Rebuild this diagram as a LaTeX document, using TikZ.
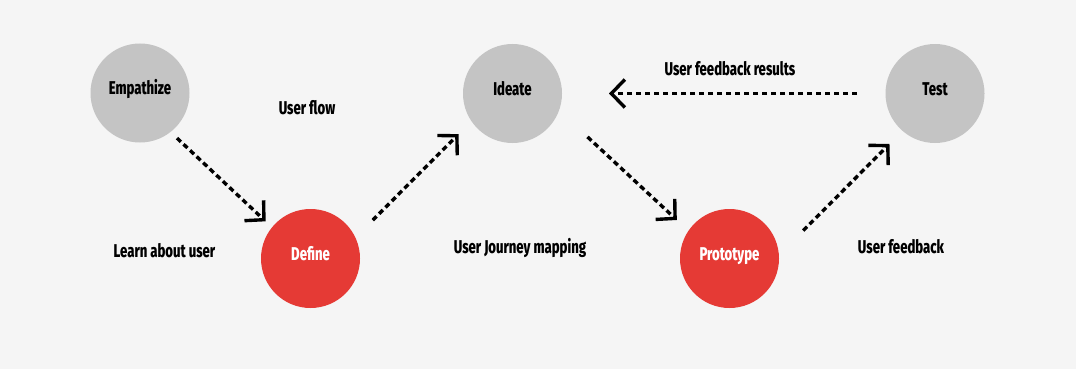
\documentclass[tikz,border=0pt]{standalone}
\usepackage{fontspec}
\setmainfont{Fira Sans}[FakeStretch=0.71, BoldFont={* ExtraBold}]
\usetikzlibrary{arrows.meta}
\definecolor{paper}{HTML}{F5F5F5}
\definecolor{stage}{HTML}{C4C4C4}
\definecolor{focus}{HTML}{E53A35}
\begin{document}
\begin{tikzpicture}[x=1pt, y=-1pt,
  txt/.style={font=\fontsize{18.5}{22}\selectfont\bfseries},
  phase/.style={txt, circle, minimum size=99pt, inner sep=0pt, outer sep=0pt,
    text height=8pt, text depth=4pt},
  neutral/.style={phase, fill=stage, text=black},
  key/.style={phase, fill=focus, text=white},
  note/.style={txt, anchor=base, inner sep=0pt, text=black},
  flow/.style={line width=3.4pt, dash pattern=on 5.4pt off 3.6pt,
    -{Straight Barb[length=13.5pt, width=28pt, sharp]}}
]
% canvas
\fill[paper] (0,0) rectangle (1076,369);

% design-thinking stages
\node[neutral] (emp) at (140,93)     {Empathize};
\node[key]     (def) at (310.5,258.5) {Define};
\node[neutral] (ide) at (512.5,93.5)  {Ideate};
\node[key]     (pro) at (729.5,258.5) {Prototype};
\node[neutral] (tst) at (935,93.5)    {Test};

% step notes
\node[note] (n1) at (307,114)   {User flow};
\node[note] (n2) at (164.5,257.3) {Learn about user};
\node[note] (n3) at (520,253)   {User Journey mapping};
\node[note] (n4) at (730,75)    {User feedback results};
\node[note] (n5) at (901,253)   {User feedback};

% transitions
\draw[flow, shorten <=8.9pt,  shorten >=8.8pt]  (emp.-52.4) -- (def.141.2);
\draw[flow, shorten <=24.6pt, shorten >=18.3pt] (def.25.4)  -- (ide.214.6);
\draw[flow, shorten <=38.9pt, shorten >=15.9pt] (ide.-20.4) -- (pro.146.7);
\draw[flow, shorten <=34.5pt, shorten >=18.5pt] (pro.4.9)   -- (tst.229.6);
\draw[flow, shorten <=28.5pt, shorten >=47pt]   (tst.west)  -- (ide.east);
\end{tikzpicture}
\end{document}
